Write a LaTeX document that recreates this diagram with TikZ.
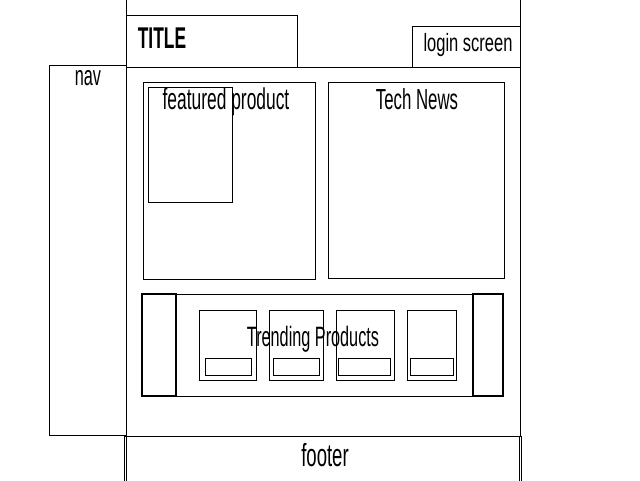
\documentclass[tikz,border=0pt]{standalone}
\usepackage{fontspec}
\setmainfont[FakeStretch=0.58]{Liberation Sans}
\newfontfamily\widefont[FakeStretch=0.66]{Liberation Sans}
\begin{document}
\begin{tikzpicture}[x=1pt,y=-1pt,
  box/.style={draw=black,line width=1pt,rectangle,inner sep=0pt},
  arrowpanel/.style={box,line width=1.5pt},
  lbl/.style={inner sep=0pt,anchor=base,font=\fontsize{29}{32}\selectfont}]
\useasboundingbox[fill=white] (0,0) rectangle (640,480);

% page column and header band
\node[box,minimum width=394pt,minimum height=441pt] (page) at (323,215.5) {};
\node[box,minimum width=394pt,minimum height=72pt] (header) at (323,31) {};
\node[box,fill=white,minimum width=171pt,minimum height=52pt] (title) at (211.5,41) {};
\node[box,fill=white,minimum width=108pt,minimum height=41pt] (login) at (466,46.5) {};

% side navigation
\node[box,minimum width=77pt,minimum height=370pt] (nav) at (87.5,250) {};

% featured product and news panels
\node[box,minimum width=172pt,minimum height=197pt] (featured) at (229,180.5) {};
\node[box,minimum width=84pt,minimum height=115pt] (featimg) at (190,144.5) {};
\node[box,minimum width=176pt,minimum height=196pt] (tech) at (416,180) {};

% trending carousel
\node[box,minimum width=361pt,minimum height=102pt] (trend) at (322.5,345) {};
\node[arrowpanel,minimum width=34pt,minimum height=102pt] (prev) at (159,345) {};
\node[arrowpanel,minimum width=30pt,minimum height=102pt] (next) at (488,345) {};
\node[box,minimum width=57pt,minimum height=70pt] (c1) at (227.5,345) {};
\node[box,minimum width=54pt,minimum height=70pt] (c2) at (296,345) {};
\node[box,minimum width=58pt,minimum height=70pt] (c3) at (365,345) {};
\node[box,minimum width=49pt,minimum height=70pt] (c4) at (431.5,345) {};
\node[box,minimum width=46pt,minimum height=17pt] (s1) at (228,366.5) {};
\node[box,minimum width=46pt,minimum height=17pt] (s2) at (296,366.5) {};
\node[box,minimum width=52pt,minimum height=17pt] (s3) at (364,366.5) {};
\node[box,minimum width=43pt,minimum height=17pt] (s4) at (431.5,366.5) {};

% footer with doubled sides
\node[box,minimum width=397pt,minimum height=60pt] (footframe) at (322.5,466) {};
\node[box,minimum width=393pt,minimum height=60pt] (footer) at (322.5,466) {};

% labels
\node[lbl,font=\fontsize{30}{32}\selectfont\bfseries] (titletext) at (162,48) {TITLE};
\node[lbl,font=\widefont\fontsize{25}{28}\selectfont] (logintext) at (468,51) {login screen};
\node[lbl,font=\fontsize{28}{30}\selectfont] (navtext) at (88,85) {nav};
\node[lbl,font=\fontsize{30}{32}\selectfont] (feattext) at (226,109) {featured product};
\node[lbl] (techtext) at (417,109) {Tech News};
\node[lbl,font=\fontsize{28}{30}\selectfont] (trendtext) at (313,346) {Trending Products};
\node[lbl,font=\fontsize{32}{34}\selectfont] (foottext) at (325,466) {footer};
\end{tikzpicture}
\end{document}
